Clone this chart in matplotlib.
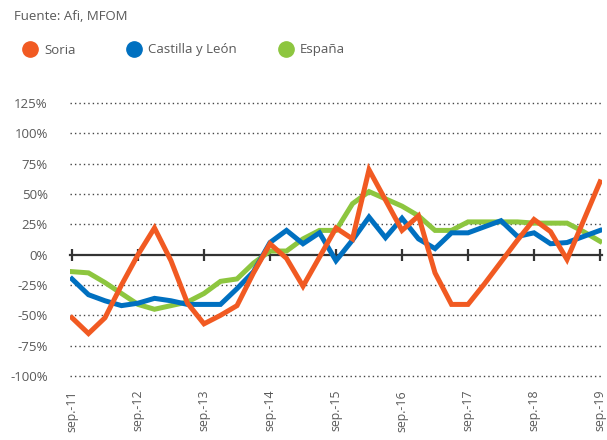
import matplotlib
matplotlib.use("Agg")
import matplotlib.pyplot as plt
from matplotlib.lines import Line2D

plt.rcParams['font.family'] = ['Open Sans', 'DejaVu Sans']

# quarterly data, sep-11 .. sep-19 (33 points), % change
soria = [-52, -65, -52, -25, 0, 22, -5, -40, -57, -50, -42, -15, 9, -3, -26, -2,
         22, 13, 70, 45, 20, 32, -15, -41, -41, -24, -6, 12, 29, 19, -4, 28, 60]
cyl = [-20, -33, -38, -42, -40, -36, -38, -41, -41, -41, -28, -14, 10, 20, 9, 18,
       -5, 12, 31, 14, 30, 13, 5, 18, 18, 23, 28, 15, 18, 9, 10, 15, 20]
espana = [-14, -15, -23, -32, -41, -45, -42, -39, -32, -22, -20, -7, 3, 3, 13, 20,
          20, 42, 52, 46, 40, 32, 20, 20, 27, 27, 27, 27, 26, 26, 26, 19, 11]
series_names = ["Soria", "Castilla y León", "España"]
colors = ["#F15A22", "#0070C0", "#8DC63F"]
tick_labels = ["sep.-11", "sep.-12", "sep.-13", "sep.-14", "sep.-15",
               "sep.-16", "sep.-17", "sep.-18", "sep.-19"]
y_ticks = [125, 100, 75, 50, 25, 0, -25, -50, -75, -100]

W, H = 607, 440
fig = plt.figure(figsize=(W / 100, H / 100), dpi=100)
ax = fig.add_axes([70 / W, (H - 376) / H, (602 - 70) / W, (376 - 103) / H])

x = list(range(len(soria)))
grey = "#595959"

# dotted gridlines
for v in y_ticks:
    if v != 0:
        ax.axhline(v, color="#444444", lw=1.0, ls=(0, (1, 2.2)), zorder=1, clip_on=False)

data = [soria, cyl, espana]
zorders = [5, 4, 3]
for vals, c, z in zip(data, colors, zorders):
    ax.plot(x, vals, color=c, lw=3.6, solid_joinstyle="miter", zorder=z)

ax.set_xlim(-0.12, 32.12)
ax.set_ylim(-100, 125)
ax.set_yticks(y_ticks)
ax.set_yticklabels([f"{v}%" for v in y_ticks], color=grey, fontsize=9.5)
ax.tick_params(axis="y", length=0, pad=16)

for s in ["top", "right", "left"]:
    ax.spines[s].set_visible(False)
ax.spines["bottom"].set_position(("data", 0))
ax.spines["bottom"].set_color("#333333")
ax.spines["bottom"].set_linewidth(1.6)
ax.spines["bottom"].set_zorder(2)
ax.set_xticks(list(range(0, 33, 4)))
ax.tick_params(axis="x", direction="inout", length=8, width=1.6, color="#333333",
               labelbottom=False)

sec = ax.secondary_xaxis(0.0)
sec.set_xticks(list(range(0, 33, 4)))
sec.set_xticklabels(tick_labels, rotation=90, color=grey, fontsize=8.8, va="top")
sec.tick_params(length=0, pad=10)
sec.spines["bottom"].set_visible(False)

fig.text(14 / W, 1 - 16 / H, "Fuente: Afi, MFOM", color=grey, fontsize=9.5,
         va="center", ha="left")

legend_x = [23, 127, 279]
for name, c, lx in zip(series_names, colors, legend_x):
    h = Line2D([], [], marker="o", ls="", ms=11, color=c)
    fig.legend([h], [name], loc="center left", bbox_to_anchor=(lx / W, 1 - 50 / H),
               frameon=False, fontsize=9.5, labelcolor=grey, handlelength=1.0,
               handletextpad=0.6, borderpad=0, borderaxespad=0)

fig.savefig("out.png", dpi=100)
